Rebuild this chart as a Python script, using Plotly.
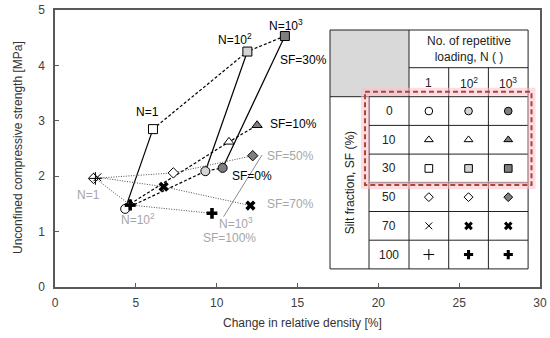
import plotly.graph_objects as go

# ---------------- data ----------------
n_levels = ["1", "10<sup>2</sup>", "10<sup>3</sup>"]
sf_levels = ["0", "10", "30", "50", "70", "100"]

drd_sf0 = [4.34, 9.30, 10.37]
ucs_sf0 = [1.41, 2.09, 2.15]
drd_sf10 = [4.65, 10.76, 12.50]
ucs_sf10 = [1.50, 2.62, 2.92]
drd_sf30 = [6.06, 11.90, 14.22]
ucs_sf30 = [2.85, 4.25, 4.53]
drd_sf50 = [2.38, 7.32, 12.23]
ucs_sf50 = [1.96, 2.06, 2.37]
drd_sf70 = [2.62, 6.72, 12.09]
ucs_sf70 = [1.98, 1.81, 1.47]
drd_sf100 = [2.50, 4.65, 9.71]
ucs_sf100 = [1.96, 1.48, 1.33]

x_ticks = [0, 5, 10, 15, 20, 25, 30]
y_ticks = [0, 1, 2, 3, 4, 5]

W, H = 550, 338
ML, MR, MT, MB = 55, 10, 10, 51
FONT = "Liberation Sans, Arial, sans-serif"
WHITE, LIGHT, DARK = "white", "#d4d4d4", "#7f7f7f"
GREY_TXT = "#a6a6a6"

# marker style per SF row, per N column
styles = {
    "0": [("circle", WHITE), ("circle", LIGHT), ("circle", DARK)],
    "10": [("triangle-up", WHITE), ("triangle-up", WHITE), ("triangle-up", DARK)],
    "30": [("square", WHITE), ("square", LIGHT), ("square", DARK)],
    "50": [("diamond", WHITE), ("diamond", WHITE), ("diamond", DARK)],
    "70": [("x-thin-open", None), ("x", "black"), ("x", "black")],
    "100": [("cross-thin-open", None), ("cross", "black"), ("cross", "black")],
}
sizes = {"circle": 9, "triangle-up": 9, "square": 9, "diamond": 8,
         "x-thin-open": 8, "x": 9, "cross-thin-open": 9, "cross": 9}


def mk(sym, fill, scale=1.0):
    s = sizes[sym] * scale
    if fill is None:
        return dict(symbol=sym, size=s, color="black",
                    line=dict(color="black", width=1))
    lw = 0 if fill == "black" else 1
    return dict(symbol=sym, size=s, color=fill,
                line=dict(color="black", width=lw))


fig = go.Figure()

series = {
    "0": (drd_sf0, ucs_sf0), "10": (drd_sf10, ucs_sf10), "30": (drd_sf30, ucs_sf30),
    "50": (drd_sf50, ucs_sf50), "70": (drd_sf70, ucs_sf70), "100": (drd_sf100, ucs_sf100),
}

# solid lines linking SF=0 and SF=30 for each N
for i in range(3):
    fig.add_trace(go.Scatter(x=[drd_sf0[i], drd_sf30[i]], y=[ucs_sf0[i], ucs_sf30[i]],
                             mode="lines", line=dict(color="black", width=1.2),
                             showlegend=False, hoverinfo="skip"))

# lines across N for each SF
for sf, (xs, ys) in series.items():
    if sf in ("0", "10", "30"):
        ln = dict(color="black", width=1.2, dash="3px,2px")
    else:
        ln = dict(color="#4d4d4d", width=1, dash="1px,1.5px")
    fig.add_trace(go.Scatter(x=xs, y=ys, mode="lines", line=ln,
                             showlegend=False, hoverinfo="skip"))

# gray leader line for the N=10^3 label
fig.add_trace(go.Scatter(x=[10.43, 12.8], y=[1.27, 2.38], mode="lines",
                         line=dict(color="#8c8c8c", width=1), showlegend=False,
                         hoverinfo="skip"))

# markers
for sf, (xs, ys) in series.items():
    for i in range(3):
        sym, fill = styles[sf][i]
        fig.add_trace(go.Scatter(x=[xs[i]], y=[ys[i]], mode="markers",
                                 marker=mk(sym, fill), showlegend=False,
                                 hoverinfo="skip"))


# ---------------- annotations in data space ----------------
def note(x, y, text, color="black", xanchor="center"):
    fig.add_annotation(x=x, y=y, text=text, showarrow=False, xref="x", yref="y",
                       font=dict(family=FONT, size=12, color=color),
                       xanchor=xanchor, yanchor="middle")


note(5.70, 3.16, "N=1")
note(11.13, 4.47, "N=10<sup>2</sup>")
note(14.26, 4.73, "N=10<sup>3</sup>")
note(13.8, 4.10, "SF=30%", xanchor="left")
note(13.15, 2.94, "SF=10%", xanchor="left")
note(12.21, 2.01, "SF=0%")
note(12.96, 2.37, "SF=50%", GREY_TXT, xanchor="left")
note(12.96, 1.50, "SF=70%", GREY_TXT, xanchor="left")
note(2.05, 1.66, "N=1", GREY_TXT)
note(5.16, 1.22, "N=10<sup>2</sup>", GREY_TXT)
note(11.19, 1.16, "N=10<sup>3</sup>", GREY_TXT)
note(10.77, 0.88, "SF=100%", GREY_TXT)

# ---------------- axes ----------------
axcol = "#595959"
fig.update_layout(
    width=W, height=H, margin=dict(l=ML, r=MR, t=MT, b=MB, autoexpand=False),
    paper_bgcolor="white", plot_bgcolor="rgba(0,0,0,0)",
    font=dict(family=FONT, size=12, color="#333333"),
    xaxis=dict(domain=[0, 1], range=[0, 30], tickvals=x_ticks, automargin=False,
               showline=True, mirror=True, linecolor=axcol, linewidth=1.5,
               ticks="inside", ticklen=4, tickcolor=axcol, showgrid=False,
               zeroline=False, tickfont=dict(size=12, color="#404040"),
               ticklabelstandoff=4),
    yaxis=dict(domain=[0, 1], range=[0, 5], tickvals=y_ticks, automargin=False,
               showline=True, mirror=True, linecolor=axcol, linewidth=1.5,
               ticks="inside", ticklen=4, tickcolor=axcol, showgrid=False,
               zeroline=False, tickfont=dict(size=12, color="#404040"),
               ticklabelstandoff=6),
    # pixel-space overlay for the table: maps plot-area pixels 1:1
    xaxis2=dict(domain=[0, 1], range=[ML, W - MR], visible=False, anchor="y2"),
    yaxis2=dict(domain=[0, 1], range=[H - MB, MT], visible=False, anchor="x2"),
)

# axis titles placed in pixel space
PW, PH = W - ML - MR, H - MT - MB
fig.add_annotation(x=(302 - ML) / PW, y=(H - MB - 323) / PH,
                   xref="paper", yref="paper", text="Change in relative density [%]",
                   xanchor="center", yanchor="middle",
                   showarrow=False, font=dict(family=FONT, size=12, color="#333333"))
fig.add_annotation(x=(18 - ML) / PW, y=(H - MB - 148) / PH, xref="paper", yref="paper",
                   text="Unconfined compressive strength [MPa]", textangle=-90,
                   xanchor="center", yanchor="middle",
                   showarrow=False, font=dict(family=FONT, size=12, color="#333333"))

# ---------------- table (pixel space on x2/y2) ----------------
tx0, tx1, tx2 = 330, 369, 409
col_w = 39.7
row_top, head_mid, head_bot = 30, 67.7, 96.7
row_h = 28.7
tx_end = tx2 + 3 * col_w
ty_end = head_bot + len(sf_levels) * row_h
LC = "#222222"


def seg(x0, y0, x1, y1, color=LC, width=1, dash=None):
    fig.add_shape(type="line", xref="x2", yref="y2", x0=x0, y0=y0, x1=x1, y1=y1,
                  line=dict(color=color, width=width, dash=dash))


fig.add_shape(type="rect", xref="x2", yref="y2", x0=tx0, y0=row_top, x1=tx_end, y1=ty_end,
              fillcolor="white", line=dict(width=0), layer="below")
fig.add_shape(type="rect", xref="x2", yref="y2", x0=tx0, y0=row_top, x1=tx2, y1=head_bot,
              fillcolor="#d9d9d9", line=dict(width=0), layer="below")
fig.add_shape(type="rect", xref="x2", yref="y2", x0=tx0, y0=row_top, x1=tx_end, y1=ty_end,
              line=dict(color=LC, width=1))
seg(tx0, head_bot, tx_end, head_bot)
seg(tx2, head_mid, tx_end, head_mid)
seg(tx2, row_top, tx2, ty_end)
seg(tx1, head_bot, tx1, ty_end)
for j in range(1, 3):
    seg(tx2 + j * col_w, head_mid, tx2 + j * col_w, ty_end)
for r in range(1, len(sf_levels)):
    seg(tx1, head_bot + r * row_h, tx_end, head_bot + r * row_h)

# highlight box (pink halo + dashed red)
hx0, hy0, hx1, hy1 = 365, 91.7, 531.5, 185
fig.add_shape(type="rect", xref="x2", yref="y2", x0=hx0, y0=hy0, x1=hx1, y1=hy1,
              line=dict(color="rgba(255,190,205,0.55)", width=8))
fig.add_shape(type="rect", xref="x2", yref="y2", x0=hx0, y0=hy0, x1=hx1, y1=hy1,
              line=dict(color="#a9472f", width=2, dash="5px,3px"))


def tnote(x, y, text, angle=0):
    fig.add_annotation(x=x, y=y, xref="x2", yref="y2", text=text, showarrow=False,
                       textangle=angle, font=dict(family=FONT, size=12, color="#222222"))


tnote((tx2 + tx_end) / 2, (row_top + head_mid) / 2, "No. of repetitive<br>loading, N ( )")
for j, lab in enumerate(n_levels):
    tnote(tx2 + (j + 0.5) * col_w, (head_mid + head_bot) / 2 + 1, lab)
tnote((tx0 + tx1) / 2, (head_bot + ty_end) / 2, "Silt fraction, SF (%)", angle=-90)

for r, sf in enumerate(sf_levels):
    cy = head_bot + (r + 0.5) * row_h
    tnote((tx1 + tx2) / 2, cy, sf)
    for j in range(3):
        sym, fill = styles[sf][j]
        fig.add_trace(go.Scatter(x=[tx2 + (j + 0.5) * col_w], y=[cy], mode="markers",
                                 xaxis="x2", yaxis="y2", marker=mk(sym, fill, 0.85),
                                 showlegend=False, hoverinfo="skip"))

fig.write_html("out.html", config={"displayModeBar": False},
               post_script="document.body.style.margin='0';document.body.style.overflow='hidden';")
